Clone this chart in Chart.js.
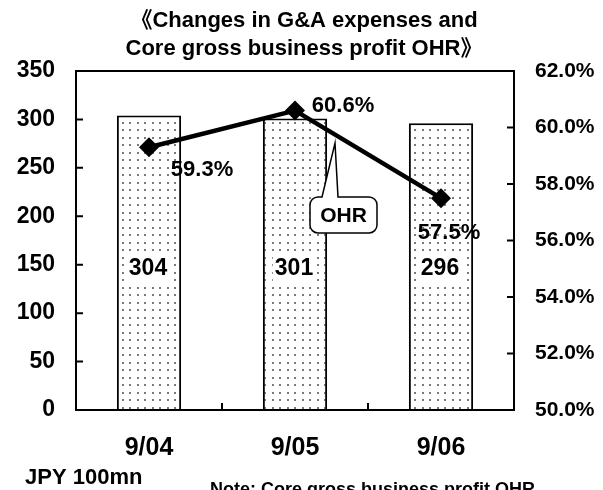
<!DOCTYPE html>
<html><head><meta charset="utf-8">
<script src="https://cdn.jsdelivr.net/npm/chart.js@4/dist/chart.umd.min.js"></script>
<style>html,body{margin:0;padding:0;background:#fff}#wrap{width:603px;height:490px}</style>
</head><body><div id="wrap"><canvas id="c" width="603" height="490"></canvas></div>
<script>
const categories = ['9/04', '9/05', '9/06'];
const gaExpenses = [304, 301, 296];
const ohrValues = [59.3, 60.6, 57.5];
const leftTicks = [0, 50, 100, 150, 200, 250, 300, 350];
const rightTicks = [50, 52, 54, 56, 58, 60, 62];
const titleLines = ['《Changes in G&A expenses and', 'Core gross business profit OHR》'];
const unitLabel = 'JPY 100mn';
const noteLabel = 'Note: Core gross business profit OHR';
const calloutLabel = 'OHR';

const FONT = '"Liberation Sans", "Noto Sans CJK JP", sans-serif';

function dotPattern() {
  const p = document.createElement('canvas');
  p.width = 15; p.height = 15;
  const g = p.getContext('2d');
  g.fillStyle = '#fff'; g.fillRect(0, 0, 15, 15);
  g.fillStyle = '#7a7a7a';
  [[2, 2], [9, 2], [2, 9], [9, 9]].forEach(([a, b]) => g.fillRect(a, b, 2, 2));
  return g.createPattern(p, 'repeat');
}
const ctx0 = document.getElementById('c').getContext('2d');

const decor = {
  id: 'decor',
  afterDraw(chart) {
    const ctx = chart.ctx, a = chart.chartArea;
    const yL = chart.scales.y, yR = chart.scales.y1, x = chart.scales.x;
    ctx.save();
    ctx.strokeStyle = '#000'; ctx.lineWidth = 2;
    ctx.strokeRect(a.left, a.top, a.right - a.left, a.bottom - a.top);
    // inner ticks
    ctx.beginPath();
    leftTicks.forEach(v => { const py = yL.getPixelForValue(v); ctx.moveTo(a.left, py); ctx.lineTo(a.left + 7, py); });
    rightTicks.forEach(v => { const py = yR.getPixelForValue(v); ctx.moveTo(a.right, py); ctx.lineTo(a.right - 7, py); });
    for (let i = 1; i < categories.length; i++) {
      const px = (x.getPixelForValue(i - 1) + x.getPixelForValue(i)) / 2;
      ctx.moveTo(px, a.bottom); ctx.lineTo(px, a.bottom - 7);
    }
    ctx.stroke();

    ctx.fillStyle = '#000';
    ctx.textAlign = 'center'; ctx.textBaseline = 'middle';
    // bar value labels
    ctx.font = 'bold 23px ' + FONT;
    gaExpenses.forEach((v, i) => {
      const px = x.getPixelForValue(i) - 1, py = yL.getPixelForValue(146);
      const w = ctx.measureText(String(v)).width;
      ctx.fillStyle = '#fff'; ctx.fillRect(px - w / 2 - 2, py - 14, w + 4, 28);
      ctx.fillStyle = '#000'; ctx.fillText(String(v), px, py);
    });
    // line value labels
    ctx.font = 'bold 22px ' + FONT;
    const offs = [[53, 23], [48, -5], [8, 35]];
    ohrValues.forEach((v, i) => {
      const px = x.getPixelForValue(i) + offs[i][0], py = yR.getPixelForValue(v) + offs[i][1];
      ctx.fillText(v.toFixed(1) + '%', px, py);
    });
    // callout
    const bx = x.getPixelForValue(1) + 15, by = yR.getPixelForValue(57.54);
    const bw = 67, bh = 36, r = 8;
    const tip = [x.getPixelForValue(1) + 40, yR.getPixelForValue(59.45)];
    ctx.beginPath();
    ctx.moveTo(bx + r, by);
    ctx.lineTo(bx + 12, by);
    ctx.lineTo(tip[0], tip[1]);
    ctx.lineTo(bx + 28, by);
    ctx.lineTo(bx + bw - r, by);
    ctx.arcTo(bx + bw, by, bx + bw, by + r, r);
    ctx.lineTo(bx + bw, by + bh - r);
    ctx.arcTo(bx + bw, by + bh, bx + bw - r, by + bh, r);
    ctx.lineTo(bx + r, by + bh);
    ctx.arcTo(bx, by + bh, bx, by + bh - r, r);
    ctx.lineTo(bx, by + r);
    ctx.arcTo(bx, by, bx + r, by, r);
    ctx.closePath();
    ctx.fillStyle = '#fff'; ctx.fill();
    ctx.lineWidth = 1.5; ctx.strokeStyle = '#000'; ctx.stroke();
    ctx.fillStyle = '#000';
    ctx.font = 'bold 21px ' + FONT;
    ctx.fillText(calloutLabel, bx + bw / 2, by + bh / 2 + 1);

    // title
    ctx.font = 'bold 22px ' + FONT;
    ctx.fillText(titleLines[0], 304, 21);
    ctx.fillText(titleLines[1], 304, 49);
    // footers
    ctx.textAlign = 'left';
    ctx.font = 'bold 22px ' + FONT;
    ctx.fillText(unitLabel, 25, 478);
    ctx.font = 'bold 18px ' + FONT;
    ctx.textBaseline = 'top';
    ctx.fillText(noteLabel, 210, 481);
    ctx.restore();
  }
};

new Chart(ctx0, {
  data: {
    labels: categories,
    datasets: [
      {
        type: 'line', label: 'OHR', data: ohrValues, yAxisID: 'y1', order: 0,
        borderColor: '#000', borderWidth: 4.5, backgroundColor: '#000',
        pointStyle: 'rectRot', pointRadius: 10, pointBackgroundColor: '#000', pointBorderWidth: 0
      },
      {
        type: 'bar', label: 'G&A expenses', data: gaExpenses, yAxisID: 'y', order: 1,
        backgroundColor: dotPattern(), borderColor: '#000', borderWidth: 2,
        categoryPercentage: 1, barPercentage: 0.44
      }
    ]
  },
  options: {
    responsive: false, animation: false,
    layout: { padding: { top: 71, bottom: 0, left: 0, right: 0 } },
    plugins: { legend: { display: false }, tooltip: { enabled: false } },
    scales: {
      x: {
        offset: true,
        grid: { display: false, drawTicks: false },
        border: { display: false },
        ticks: { color: '#000', font: { family: FONT, size: 25, weight: 'bold' }, padding: 23 },
        afterFit(s) { s.height = 80; }
      },
      y: {
        position: 'left', min: 0, max: 350,
        afterBuildTicks(s) { s.ticks = leftTicks.map(v => ({ value: v })); },
        grid: { display: false, drawTicks: false },
        border: { display: false },
        ticks: { color: '#000', font: { family: FONT, size: 23, weight: 'bold' }, padding: 21 },
        afterFit(s) { s.width = 76; }
      },
      y1: {
        position: 'right', min: 50, max: 62,
        afterBuildTicks(s) { s.ticks = rightTicks.map(v => ({ value: v })); },
        grid: { display: false, drawTicks: false },
        border: { display: false },
        ticks: { color: '#000', font: { family: FONT, size: 21, weight: 'bold' }, padding: 21,
          callback: v => Number(v).toFixed(1) + '%' },
        afterFit(s) { s.width = 89; }
      }
    }
  },
  plugins: [decor]
});
</script></body></html>
